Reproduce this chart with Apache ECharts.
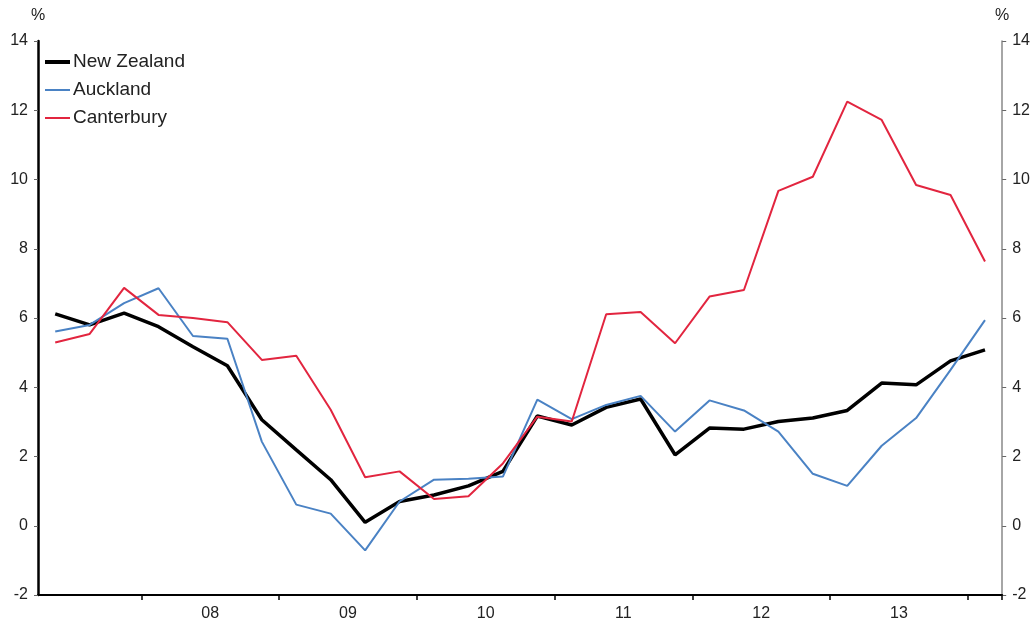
<!DOCTYPE html>
<html>
<head>
<meta charset="utf-8">
<script src="https://cdn.jsdelivr.net/npm/echarts@6/dist/echarts.min.js"></script>
<style>
html,body{margin:0;padding:0;background:#fff;}
#chart{width:1033px;height:624px;}
</style>
</head>
<body>
<div id="chart"></div>
<script>
const quarters = ['2007Q2','2007Q3','2007Q4','2008Q1','2008Q2','2008Q3','2008Q4','2009Q1','2009Q2','2009Q3','2009Q4','2010Q1','2010Q2','2010Q3','2010Q4','2011Q1','2011Q2','2011Q3','2011Q4','2012Q1','2012Q2','2012Q3','2012Q4','2013Q1','2013Q2','2013Q3','2013Q4','2014Q1'];
const yearLabels = ['08','09','10','11','12','13'];
const newZealand = [6.12,5.8,6.14,5.75,5.17,4.62,3.06,2.19,1.33,0.1,0.7,0.89,1.15,1.57,3.17,2.91,3.42,3.66,2.05,2.82,2.79,3.01,3.11,3.33,4.12,4.07,4.76,5.08];
const auckland = [5.61,5.8,6.43,6.86,5.48,5.4,2.43,0.61,0.35,-0.71,0.7,1.33,1.36,1.42,3.64,3.08,3.49,3.75,2.72,3.62,3.33,2.72,1.5,1.15,2.31,3.11,4.5,5.94];
const canterbury = [5.29,5.54,6.87,6.09,6.0,5.88,4.79,4.91,3.35,1.4,1.57,0.77,0.85,1.8,3.15,3.01,6.11,6.17,5.27,6.62,6.81,9.67,10.08,12.25,11.72,9.84,9.55,7.63];

const FONT = '"Liberation Sans", Arial, sans-serif';
const chart = echarts.init(document.getElementById('chart'));
const yAxisCommon = {
  type: 'value', min: -2, max: 14, interval: 2,
  splitLine: {show: false},
  name: '%', nameLocation: 'end', nameGap: 17,
  nameTextStyle: {fontFamily: FONT, fontSize: 16, color: '#222', align: 'center'},
  axisTick: {show: true, length: 4, lineStyle: {color: '#666', width: 1}},
  axisLabel: {fontFamily: FONT, fontSize: 16, color: '#222', margin: 10}
};
chart.setOption({
  animation: false,
  backgroundColor: '#fff',
  grid: {left: 38, right: 30, top: 41, bottom: 29, containLabel: false},
  legend: {
    orient: 'vertical', left: 40, top: 46, itemWidth: 25, itemHeight: 4, itemGap: 6,
    textStyle: {fontFamily: FONT, fontSize: 19, color: '#222', padding: [0,0,0,-2], lineHeight: 22},
    data: [
      {name: 'New Zealand', icon: 'rect', itemStyle: {color: '#000'}},
      {name: 'Auckland', icon: 'path://M0,1H25V3H0Z', itemStyle: {color: '#4a82c4'}},
      {name: 'Canterbury', icon: 'path://M0,1H25V3H0Z', itemStyle: {color: '#e2253f'}}
    ]
  },
  xAxis: [
    {
      type: 'category', data: quarters, boundaryGap: true, position: 'bottom',
      axisLine: {show: true, onZero: false, lineStyle: {color: '#000', width: 2}},
      axisTick: {show: true, length: 5, inside: false, interval: function (i) { return i % 4 === 3; }, lineStyle: {color: '#000', width: 1.5}},
      axisLabel: {show: false},
      splitLine: {show: false}
    },
    {
      type: 'value', min: 0, max: quarters.length, interval: 1, position: 'bottom',
      axisLine: {show: false, onZero: false}, axisTick: {show: false}, splitLine: {show: false},
      axisLabel: {
        fontFamily: FONT, fontSize: 16, color: '#222', margin: 11,
        formatter: function (v) {
          const k = (v - 5) / 4;
          return (Number.isInteger(k) && k >= 0 && k < yearLabels.length) ? yearLabels[k] : '';
        }
      }
    }
  ],
  yAxis: [
    Object.assign({}, yAxisCommon, {
      position: 'left',
      axisLine: {show: true, lineStyle: {color: '#000', width: 2.5}}
    }),
    Object.assign({}, yAxisCommon, {
      position: 'right',
      axisLine: {show: true, lineStyle: {color: '#888', width: 1.5}}
    })
  ],
  series: [
    {name: 'New Zealand', type: 'line', data: newZealand, symbol: 'none', xAxisIndex: 0, yAxisIndex: 0,
     lineStyle: {color: '#000', width: 3.5}, itemStyle: {color: '#000'}},
    {name: 'Auckland', type: 'line', data: auckland, symbol: 'none', xAxisIndex: 0, yAxisIndex: 0,
     lineStyle: {color: '#4a82c4', width: 2}, itemStyle: {color: '#4a82c4'}},
    {name: 'Canterbury', type: 'line', data: canterbury, symbol: 'none', xAxisIndex: 0, yAxisIndex: 0,
     lineStyle: {color: '#e2253f', width: 2}, itemStyle: {color: '#e2253f'}}
  ]
});
</script>
</body>
</html>
